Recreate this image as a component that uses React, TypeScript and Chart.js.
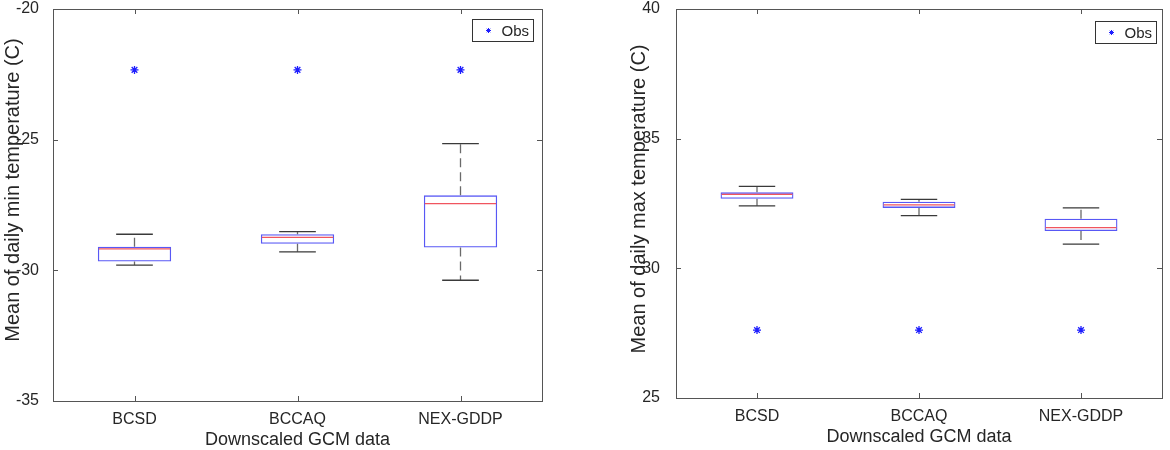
import React, { useEffect, useRef } from "react";
import { Chart, registerables } from "chart.js";

Chart.register(...registerables);

// ---------- data ----------
const categories = ["BCSD", "BCCAQ", "NEX-GDDP"];

// Left panel: mean of daily min temperature
const minLowWhisker = [-29.8, -29.29, -30.38];
const minQ1 = [-29.66, -28.98, -29.13];
const minMedian = [-29.18, -28.74, -27.45];
const minQ3 = [-29.1, -28.62, -27.13];
const minHighWhisker = [-28.62, -28.52, -25.15];
const minObs = [-22.33, -22.33, -22.33];
const minAxis = [-35, -20, 5]; // min, max, step

// Right panel: mean of daily max temperature
const maxLowWhisker = [32.41, 32.03, 30.93];
const maxQ1 = [32.68, 32.33, 31.44];
const maxMedian = [32.85, 32.45, 31.57];
const maxQ3 = [32.93, 32.57, 31.91];
const maxHighWhisker = [33.16, 32.66, 32.33];
const maxObs = [27.62, 27.62, 27.62];
const maxAxis = [25, 40, 5];

const xTitle = "Downscaled GCM data";
const minYTitle = "Mean of daily min temperature (C)";
const maxYTitle = "Mean of daily max temperature (C)";
const legendLabel = "Obs";

// ---------- styles ----------
const FONT = "'Liberation Sans', Arial, Helvetica, sans-serif";
const TEXT = "#262626";
const FRAME = "#555555";
const BOX_BLUE = "rgb(88,88,245)";
const MED_RED = "rgb(240,85,95)";
const OBS_BLUE = "rgb(30,30,255)";

function drawStar(ctx: CanvasRenderingContext2D, x: number, y: number, r: number) {
  ctx.beginPath();
  for (let k = 0; k < 4; k++) {
    const a = (k * Math.PI) / 4;
    ctx.moveTo(x + Math.cos(a) * r, y + Math.sin(a) * r);
    ctx.lineTo(x - Math.cos(a) * r, y - Math.sin(a) * r);
  }
  ctx.stroke();
}

type PanelProps = {
  low: number[];
  q1: number[];
  med: number[];
  q3: number[];
  high: number[];
  obs: number[];
  axis: number[];
  yTitle: string;
  yAxisWidth: number;
  xAxisHeight: number;
  padRight: number;
  tickPad: number;
  yTitleX: number;
  yTitleY: number;
  legendTop: number;
  legendRightGap: number;
  left: number;
};

function Panel(p: PanelProps) {
  const ref = useRef<HTMLCanvasElement | null>(null);

  useEffect(() => {
    if (!ref.current) return;

    const boxPlugin = {
      id: "matlabBox",
      afterDatasetsDraw(chart: any) {
        const ctx: CanvasRenderingContext2D = chart.ctx;
        const ys = chart.scales.y;
        const meta = chart.getDatasetMeta(0);
        ctx.save();
        categories.forEach((_, i) => {
          const bar = meta.data[i];
          if (!bar) return;
          const cx = bar.x;
          const half = bar.width / 2;
          const capHalf = half / 2;
          const pLow = ys.getPixelForValue(p.low[i]);
          const pQ1 = ys.getPixelForValue(p.q1[i]);
          const pQ3 = ys.getPixelForValue(p.q3[i]);
          const pHigh = ys.getPixelForValue(p.high[i]);
          const pMed = ys.getPixelForValue(p.med[i]);
          // dashed whiskers
          ctx.strokeStyle = "#6a6a6a";
          ctx.lineWidth = 1.3;
          ctx.setLineDash([9, 5]);
          ctx.beginPath();
          ctx.moveTo(cx, pQ3);
          ctx.lineTo(cx, pHigh);
          ctx.moveTo(cx, pQ1);
          ctx.lineTo(cx, pLow);
          ctx.stroke();
          ctx.setLineDash([]);
          // caps
          ctx.strokeStyle = "#3a3a3a";
          ctx.beginPath();
          ctx.moveTo(cx - capHalf, pHigh);
          ctx.lineTo(cx + capHalf, pHigh);
          ctx.moveTo(cx - capHalf, pLow);
          ctx.lineTo(cx + capHalf, pLow);
          ctx.stroke();
          // median
          ctx.strokeStyle = MED_RED;
          ctx.lineWidth = 1.3;
          ctx.beginPath();
          ctx.moveTo(cx - half + 1, pMed);
          ctx.lineTo(cx + half - 1, pMed);
          ctx.stroke();
        });
        ctx.restore();
      },
      afterDraw(chart: any) {
        const ctx: CanvasRenderingContext2D = chart.ctx;
        const { left, right, top, bottom } = chart.chartArea;
        const ys = chart.scales.y;
        const xs = chart.scales.x;
        ctx.save();
        // frame
        ctx.strokeStyle = FRAME;
        ctx.lineWidth = 1;
        ctx.strokeRect(Math.round(left) + 0.5, Math.round(top) + 0.5, Math.round(right - left), Math.round(bottom - top));
        // inward ticks
        ctx.beginPath();
        ys.ticks.forEach((t: any) => {
          const py = Math.round(ys.getPixelForValue(t.value)) + 0.5;
          ctx.moveTo(left, py);
          ctx.lineTo(left + 5, py);
          ctx.moveTo(right, py);
          ctx.lineTo(right - 5, py);
        });
        categories.forEach((_, i) => {
          const px = Math.round(xs.getPixelForValue(i)) + 0.5;
          ctx.moveTo(px, bottom);
          ctx.lineTo(px, bottom - 5);
          ctx.moveTo(px, top);
          ctx.lineTo(px, top + 5);
        });
        ctx.stroke();
        // axis titles
        ctx.fillStyle = TEXT;
        ctx.font = `18px ${FONT}`;
        ctx.textAlign = "center";
        ctx.textBaseline = "alphabetic";
        ctx.fillText(xTitle, (left + right) / 2, bottom + 44);
        ctx.save();
        ctx.font = `20px ${FONT}`;
        ctx.translate(p.yTitleX, p.yTitleY);
        ctx.rotate(-Math.PI / 2);
        ctx.textBaseline = "middle";
        ctx.fillText(p.yTitle, 0, 0);
        ctx.restore();
        // legend
        const lw = 61;
        const lh = 22;
        const lx = Math.round(right - p.legendRightGap - lw) + 0.5;
        const ly = Math.round(top + p.legendTop) + 0.5;
        ctx.fillStyle = "#ffffff";
        ctx.fillRect(lx, ly, lw, lh);
        ctx.strokeStyle = "#333333";
        ctx.lineWidth = 1;
        ctx.strokeRect(lx, ly, lw, lh);
        ctx.strokeStyle = OBS_BLUE;
        ctx.lineWidth = 1;
        drawStar(ctx, lx + 16, ly + lh / 2, 2.5);
        ctx.fillStyle = TEXT;
        ctx.font = `15px ${FONT}`;
        ctx.textAlign = "left";
        ctx.textBaseline = "middle";
        ctx.fillText(legendLabel, lx + 29, ly + lh / 2 + 1);
        ctx.restore();
      },
    };

    const chart = new Chart(ref.current, {
      type: "bar",
      data: {
        labels: categories,
        datasets: [
          {
            type: "bar",
            label: "box",
            data: categories.map((_, i) => [p.q1[i], p.q3[i]]) as any,
            backgroundColor: "rgba(0,0,0,0)",
            borderColor: BOX_BLUE,
            borderWidth: 1.3,
            borderSkipped: false,
            barPercentage: 0.45,
            categoryPercentage: 1,
          },
          {
            type: "line",
            label: legendLabel,
            data: p.obs,
            showLine: false,
            pointStyle: "star",
            pointRadius: 4,
            pointBorderWidth: 1.3,
            borderColor: OBS_BLUE,
            backgroundColor: OBS_BLUE,
          } as any,
        ],
      },
      options: {
        responsive: false,
        animation: false,
        events: [],
        layout: { padding: { left: 0, top: 9, right: p.padRight, bottom: 0 } },
        plugins: { legend: { display: false }, tooltip: { enabled: false } },
        scales: {
          x: {
            type: "category",
            grid: { display: false },
            border: { display: false },
            ticks: { color: TEXT, font: { family: FONT, size: 16 }, padding: 1, maxRotation: 0 },
            afterFit(s: any) {
              s.height = p.xAxisHeight;
              s.paddingLeft = 0;
              s.paddingRight = 0;
            },
          },
          y: {
            min: p.axis[0],
            max: p.axis[1],
            grid: { display: false },
            border: { display: false },
            ticks: { stepSize: p.axis[2], color: TEXT, font: { family: FONT, size: 16 }, padding: p.tickPad },
            afterFit(s: any) {
              s.width = p.yAxisWidth;
              s.paddingTop = 0;
              s.paddingBottom = 0;
            },
          },
        },
      },
      plugins: [boxPlugin],
    } as any);

    return () => chart.destroy();
  }, []);

  return (
    <canvas
      ref={ref}
      width={585}
      height={450}
      style={{ position: "absolute", left: p.left, top: 0, width: 585, height: 450 }}
    />
  );
}

export default function App() {
  return (
    <div style={{ position: "absolute", left: 0, top: 0, width: 1170, height: 450, background: "#fff" }}>
      <Panel
        low={minLowWhisker}
        q1={minQ1}
        med={minMedian}
        q3={minQ3}
        high={minHighWhisker}
        obs={minObs}
        axis={minAxis}
        yTitle={minYTitle}
        yAxisWidth={53}
        xAxisHeight={49}
        padRight={43}
        tickPad={6}
        yTitleX={13}
        yTitleY={190}
        legendTop={10}
        legendRightGap={9}
        left={0}
      />
      <Panel
        low={maxLowWhisker}
        q1={maxQ1}
        med={maxMedian}
        q3={maxQ3}
        high={maxHighWhisker}
        obs={maxObs}
        axis={maxAxis}
        yTitle={maxYTitle}
        yAxisWidth={91}
        xAxisHeight={52}
        padRight={8}
        tickPad={8}
        yTitleX={54}
        yTitleY={199}
        legendTop={12}
        legendRightGap={6}
        left={585}
      />
    </div>
  );
}
